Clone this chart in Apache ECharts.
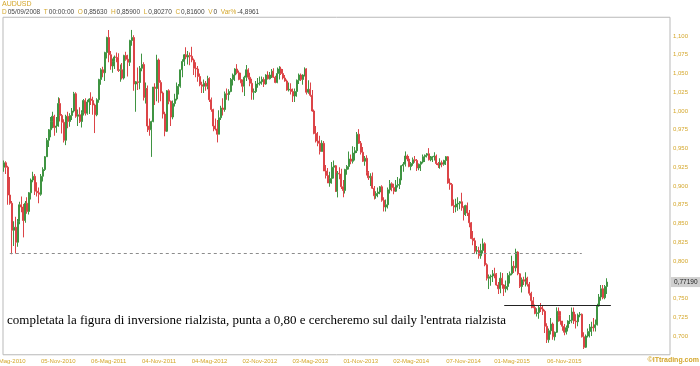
<!DOCTYPE html>
<html><head><meta charset="utf-8">
<script src="https://cdn.jsdelivr.net/npm/echarts@6/dist/echarts.min.js"></script>
<style>html,body{margin:0;padding:0;background:#fff}#c{width:700px;height:366px}</style>
</head><body><div id="c"></div>
<script>
// ---------- DATA ----------
const symbolName = 'AUDUSD';
const firstWeek = [2010, 3, 23];          // Friday of the first weekly bar (UTC y, m0, d)
const totalSlots = 344;                    // weekly slots on the axis (bars + empty space)
const monthsIt = ['Gen','Feb','Mar','Apr','Mag','Giu','Lug','Ago','Set','Ott','Nov','Dic'];
const tickLabels = ['07-Mag-2010','05-Nov-2010','06-Mag-2011','04-Nov-2011','04-Mag-2012','02-Nov-2012',
  '03-Mag-2013','01-Nov-2013','02-Mag-2014','07-Nov-2014','01-Mag-2015','06-Nov-2015'];
const yTicks = {min: 0.675, max: 1.125, step: 0.025};

// weekly bars: [open, close, low, high]
const bars2010 = [
[0.9250,0.9310,0.9190,0.9340],[0.9310,0.9250,0.9160,0.9330],[0.9250,0.8880,0.8750,0.9270],[0.8880,0.8770,0.8750,0.9120],
[0.8770,0.8410,0.8090,0.8800],[0.8410,0.8450,0.8200,0.8530],[0.8450,0.8250,0.8100,0.8590],[0.8250,0.8530,0.8190,0.8560],
[0.8530,0.8750,0.8490,0.8790],[0.8750,0.8720,0.8650,0.8860],[0.8720,0.8540,0.8315,0.8760],[0.8540,0.8770,0.8510,0.8800],
[0.8770,0.8660,0.8630,0.8850],[0.8660,0.8910,0.8620,0.8920],[0.8910,0.9080,0.8820,0.9100],[0.9080,0.9130,0.9050,0.9190],
[0.9130,0.8930,0.8880,0.9160],[0.8930,0.8910,0.8860,0.9050],[0.8910,0.8890,0.8770,0.8980],[0.8890,0.9130,0.8870,0.9160],
[0.9130,0.9220,0.9060,0.9250],[0.9220,0.9390,0.9200,0.9400],[0.9390,0.9610,0.9390,0.9640],[0.9610,0.9750,0.9520,0.9760],
[0.9750,0.9860,0.9650,0.9920],[0.9860,0.9930,0.9770,0.9990],[0.9930,0.9780,0.9670,0.9950],[0.9780,0.9800,0.9710,0.9920],
[0.9800,1.0100,0.9790,1.0183],[1.0100,0.9940,0.9860,1.0170],[0.9940,0.9850,0.9700,0.9960],[0.9850,0.9610,0.9580,0.9890],
[0.9610,0.9930,0.9545,0.9950],[0.9930,0.9860,0.9770,0.9990],[0.9860,0.9940,0.9790,0.9970],[0.9940,1.0000,0.9880,1.0040],
[1.0000,1.0230,0.9980,1.0255]];
const bars2011 = [
[1.0230,0.9930,0.9910,1.0250],[0.9930,0.9950,0.9800,1.0020],[0.9950,0.9860,0.9840,1.0050],[0.9860,0.9980,0.9780,1.0010],
[0.9980,1.0140,0.9940,1.0160],[1.0140,0.9970,0.9940,1.0170],[0.9970,1.0120,0.9950,1.0150],[1.0120,1.0160,0.9960,1.0170],
[1.0160,1.0140,1.0080,1.0250],[1.0140,1.0080,0.9950,1.0190],[1.0080,0.9950,0.9706,1.0100],[0.9950,1.0150,0.9930,1.0170],
[1.0150,1.0420,1.0110,1.0430],[1.0420,1.0550,1.0350,1.0570],[1.0550,1.0510,1.0450,1.0590],[1.0510,1.0780,1.0400,1.0790],
[1.0780,1.0980,1.0700,1.0990],[1.0980,1.0750,1.0650,1.1080],[1.0750,1.0600,1.0550,1.0800],[1.0600,1.0660,1.0510,1.0700],
[1.0660,1.0720,1.0560,1.0740],[1.0720,1.0715,1.0650,1.0780],[1.0715,1.0540,1.0520,1.0770],[1.0540,1.0550,1.0390,1.0620],
[1.0550,1.0440,1.0420,1.0640],[1.0440,1.0740,1.0420,1.0750],[1.0740,1.0690,1.0670,1.0790],[1.0690,1.0650,1.0460,1.0750],
[1.0650,1.0940,1.0600,1.0950],[1.0940,1.0980,1.0870,1.1081],[1.0980,1.0360,1.0270,1.1010],[1.0360,1.0390,0.9990,1.0400],
[1.0390,1.0380,1.0280,1.0580],[1.0380,1.0570,1.0290,1.0600],[1.0570,1.0620,1.0530,1.0765],[1.0620,1.0180,1.0140,1.0650],
[1.0180,1.0300,1.0100,1.0380],[1.0300,0.9800,0.9720,1.0340],[0.9800,0.9750,0.9670,0.9900],[0.9750,0.9860,0.9388,0.9870],
[0.9860,1.0320,0.9850,1.0320],[1.0320,1.0300,1.0080,1.0370],[1.0300,1.0680,1.0130,1.0750],[1.0680,1.0380,1.0110,1.0700],
[1.0380,1.0240,1.0130,1.0410],[1.0240,0.9960,0.9900,1.0260],[0.9960,0.9730,0.9663,0.9990],[0.9730,1.0270,0.9720,1.0280],
[1.0270,1.0130,1.0090,1.0290],[1.0130,0.9920,0.9800,1.0140],[0.9920,1.0100,0.9890,1.0140],[1.0100,1.0160,1.0060,1.0230]];
const bars2012 = [
[1.0160,1.0280,1.0140,1.0380],[1.0280,1.0330,1.0220,1.0360],[1.0330,1.0550,1.0310,1.0550],[1.0550,1.0660,1.0450,1.0690],
[1.0660,1.0750,1.0600,1.0760],[1.0750,1.0720,1.0690,1.0850],[1.0720,1.0740,1.0620,1.0800],[1.0740,1.0730,1.0610,1.0780],
[1.0730,1.0680,1.0650,1.0856],[1.0680,1.0570,1.0480,1.0700],[1.0570,1.0560,1.0450,1.0650],[1.0560,1.0460,1.0390,1.0600],
[1.0460,1.0350,1.0330,1.0500],[1.0350,1.0330,1.0240,1.0390],[1.0330,1.0370,1.0240,1.0420],[1.0370,1.0330,1.0270,1.0400],
[1.0330,1.0430,1.0290,1.0470],[1.0430,1.0150,1.0120,1.0450],[1.0150,1.0020,0.9990,1.0180],[1.0020,0.9800,0.9730,1.0030],
[0.9800,0.9760,0.9740,0.9900],[0.9760,0.9690,0.9581,0.9880],[0.9690,0.9910,0.9690,1.0010],[0.9910,1.0040,0.9880,1.0070],
[1.0040,1.0020,0.9940,1.0170],[1.0020,1.0230,0.9990,1.0260],[1.0230,1.0220,1.0150,1.0300],[1.0220,1.0260,1.0140,1.0290],
[1.0260,1.0420,1.0250,1.0440],[1.0420,1.0480,1.0340,1.0500],[1.0480,1.0560,1.0400,1.0570],[1.0560,1.0510,1.0490,1.0625],
[1.0510,1.0420,1.0410,1.0540],[1.0420,1.0380,1.0370,1.0510],[1.0380,1.0330,1.0250,1.0420],[1.0330,1.0450,1.0200,1.0470],
[1.0450,1.0550,1.0400,1.0613],[1.0550,1.0450,1.0420,1.0570],[1.0450,1.0370,1.0330,1.0510],[1.0370,1.0250,1.0150,1.0430],
[1.0250,1.0260,1.0150,1.0300],[1.0260,1.0360,1.0240,1.0400],[1.0360,1.0370,1.0310,1.0440],[1.0370,1.0390,1.0340,1.0460],
[1.0390,1.0420,1.0350,1.0460],[1.0420,1.0360,1.0320,1.0450],[1.0360,1.0480,1.0350,1.0490],[1.0480,1.0430,1.0420,1.0530],
[1.0430,1.0480,1.0420,1.0520],[1.0480,1.0530,1.0440,1.0560],[1.0530,1.0450,1.0440,1.0570],[1.0450,1.0380,1.0370,1.0470]];
const bars2013 = [
[1.0380,1.0500,1.0370,1.0580],[1.0500,1.0560,1.0420,1.0598],[1.0560,1.0500,1.0480,1.0590],[1.0500,1.0440,1.0420,1.0560],
[1.0440,1.0400,1.0390,1.0480],[1.0400,1.0280,1.0270,1.0420],[1.0280,1.0290,1.0260,1.0380],[1.0290,1.0260,1.0220,1.0370],
[1.0260,1.0200,1.0120,1.0300],[1.0200,1.0260,1.0120,1.0300],[1.0260,1.0410,1.0190,1.0420],[1.0410,1.0480,1.0360,1.0500],
[1.0480,1.0420,1.0400,1.0500],[1.0420,1.0480,1.0350,1.0490],[1.0480,1.0560,1.0460,1.0582],[1.0560,1.0250,1.0220,1.0570],
[1.0250,1.0290,1.0230,1.0410],[1.0290,1.0210,1.0190,1.0380],[1.0210,1.0000,0.9990,1.0280],[1.0000,0.9700,0.9690,1.0020],
[0.9700,0.9600,0.9580,0.9800],[0.9600,0.9570,0.9530,0.9720],[0.9570,0.9460,0.9420,0.9670],[0.9460,0.9570,0.9460,0.9610],
[0.9570,0.9200,0.9200,0.9600],[0.9200,0.9140,0.9100,0.9280],[0.9140,0.9040,0.9040,0.9240],[0.9040,0.9100,0.8990,0.9190],
[0.9100,0.9250,0.9030,0.9320],[0.9250,0.9270,0.9100,0.9340],[0.9270,0.8930,0.8920,0.9280],[0.8930,0.9170,0.8848,0.9200],
[0.9170,0.9160,0.9090,0.9250],[0.9160,0.8990,0.8960,0.9230],[0.8990,0.8940,0.8850,0.9080],[0.8940,0.9220,0.8900,0.9230],
[0.9220,0.9260,0.9150,0.9280],[0.9260,0.9360,0.9220,0.9460],[0.9360,0.9330,0.9290,0.9420],[0.9330,0.9440,0.9300,0.9530],
[0.9440,0.9470,0.9340,0.9520],[0.9470,0.9690,0.9440,0.9720],[0.9690,0.9570,0.9560,0.9758],[0.9570,0.9450,0.9420,0.9600],
[0.9450,0.9330,0.9320,0.9520],[0.9330,0.9370,0.9270,0.9400],[0.9370,0.9180,0.9140,0.9410],[0.9180,0.9110,0.9080,0.9200],
[0.9110,0.9130,0.9000,0.9170],[0.9130,0.8970,0.8960,0.9180],[0.8970,0.8870,0.8820,0.9000],[0.8870,0.8900,0.8830,0.8930]];
const bars2014 = [
[0.8900,0.8920,0.8850,0.8980],[0.8920,0.8990,0.8890,0.9000],[0.8990,0.8810,0.8790,0.9010],[0.8810,0.8720,0.8660,0.8850],
[0.8720,0.8750,0.8660,0.8820],[0.8750,0.8950,0.8700,0.8980],[0.8950,0.9030,0.8900,0.9080],[0.9030,0.8980,0.8930,0.9050],
[0.8980,0.8930,0.8890,0.9030],[0.8930,0.9010,0.8920,0.9080],[0.9010,0.9020,0.8980,0.9120],[0.9020,0.9080,0.8960,0.9100],
[0.9080,0.9270,0.9080,0.9280],[0.9270,0.9290,0.9190,0.9320],[0.9290,0.9400,0.9260,0.9461],[0.9400,0.9360,0.9330,0.9420],
[0.9360,0.9260,0.9250,0.9400],[0.9260,0.9300,0.9210,0.9320],[0.9300,0.9350,0.9270,0.9380],[0.9350,0.9340,0.9310,0.9400],
[0.9340,0.9240,0.9200,0.9360],[0.9240,0.9290,0.9210,0.9300],[0.9290,0.9320,0.9200,0.9330],[0.9320,0.9390,0.9300,0.9420],
[0.9390,0.9410,0.9320,0.9420],[0.9410,0.9430,0.9380,0.9440],[0.9430,0.9350,0.9340,0.9505],[0.9350,0.9370,0.9330,0.9400],
[0.9370,0.9390,0.9320,0.9400],[0.9390,0.9400,0.9340,0.9450],[0.9400,0.9300,0.9280,0.9420],[0.9300,0.9280,0.9240,0.9320],
[0.9280,0.9310,0.9230,0.9370],[0.9310,0.9290,0.9250,0.9340],[0.9290,0.9340,0.9270,0.9350],[0.9340,0.9390,0.9280,0.9400],
[0.9390,0.9040,0.9030,0.9400],[0.9040,0.9020,0.8950,0.9100],[0.9020,0.8740,0.8730,0.9040],[0.8740,0.8720,0.8640,0.8820],
[0.8720,0.8760,0.8650,0.8830],[0.8760,0.8770,0.8670,0.8850],[0.8770,0.8790,0.8690,0.8800],[0.8790,0.8710,0.8670,0.8910],
[0.8710,0.8620,0.8540,0.8730],[0.8620,0.8740,0.8600,0.8750],[0.8740,0.8640,0.8600,0.8780],[0.8640,0.8510,0.8450,0.8680],
[0.8510,0.8300,0.8290,0.8520],[0.8300,0.8270,0.8210,0.8400],[0.8270,0.8130,0.8100,0.8310],[0.8130,0.8140,0.8090,0.8200]];
const bars2015 = [
[0.8140,0.8070,0.8030,0.8190],[0.8070,0.8140,0.8030,0.8230],[0.8140,0.8230,0.8100,0.8300],[0.8230,0.7950,0.7930,0.8250],
[0.7950,0.7770,0.7740,0.7970],[0.7770,0.7790,0.7626,0.7820],[0.7790,0.7800,0.7670,0.7820],[0.7800,0.7830,0.7720,0.7880],
[0.7830,0.7820,0.7770,0.7910],[0.7820,0.7680,0.7670,0.7840],[0.7680,0.7630,0.7560,0.7720],[0.7630,0.7770,0.7570,0.7850],
[0.7770,0.7680,0.7630,0.7840],[0.7680,0.7630,0.7533,0.7690],[0.7630,0.7660,0.7580,0.7740],[0.7660,0.7810,0.7610,0.7840],
[0.7810,0.7830,0.7700,0.7860],[0.7830,0.7930,0.7810,0.8070],[0.7930,0.7910,0.7840,0.8000],[0.7910,0.8120,0.7860,0.8164],
[0.8120,0.7830,0.7810,0.8130],[0.7830,0.7660,0.7640,0.7840],[0.7660,0.7750,0.7580,0.7780],[0.7750,0.7730,0.7680,0.7790],
[0.7730,0.7770,0.7660,0.7850],[0.7770,0.7690,0.7660,0.7790],[0.7690,0.7570,0.7540,0.7720],[0.7570,0.7470,0.7370,0.7590],
[0.7470,0.7380,0.7370,0.7520],[0.7380,0.7300,0.7290,0.7420],[0.7300,0.7310,0.7260,0.7370],[0.7310,0.7380,0.7230,0.7400],
[0.7380,0.7360,0.7320,0.7440],[0.7360,0.7330,0.7280,0.7400],[0.7330,0.7130,0.7040,0.7350],[0.7130,0.6950,0.6907,0.7170],
[0.6950,0.7070,0.6910,0.7100],[0.7070,0.7160,0.7020,0.7240],[0.7160,0.6990,0.6950,0.7180],[0.6990,0.7050,0.6940,0.7060],
[0.7050,0.7330,0.7040,0.7382],[0.7330,0.7270,0.7190,0.7380],[0.7270,0.7200,0.7150,0.7330],[0.7200,0.7130,0.7070,0.7200],
[0.7130,0.7050,0.7010,0.7160],[0.7050,0.7110,0.7020,0.7140],[0.7110,0.7200,0.7060,0.7210],[0.7200,0.7210,0.7160,0.7280],
[0.7210,0.7320,0.7170,0.7380],[0.7320,0.7200,0.7160,0.7380],[0.7200,0.7190,0.7100,0.7290],[0.7190,0.7280,0.7130,0.7300]];
const bars2016 = [
[0.7280,0.7290,0.7250,0.7320],[0.7290,0.6990,0.6980,0.7300],[0.6990,0.6850,0.6827,0.7050],[0.6850,0.7000,0.6840,0.7020],
[0.7000,0.7060,0.6980,0.7100],[0.7060,0.7080,0.6980,0.7160],[0.7080,0.7120,0.7000,0.7190],[0.7120,0.7110,0.7060,0.7240],
[0.7110,0.7150,0.7060,0.7220],[0.7150,0.7400,0.7140,0.7430],[0.7400,0.7520,0.7390,0.7560],[0.7520,0.7630,0.7470,0.7680],
[0.7630,0.7510,0.7490,0.7680],[0.7510,0.7660,0.7490,0.7680],[0.7660,0.7719,0.7560,0.7770]];

const resistanceLine = {value: 0.811, from: '14-Mag-2010', to: '08-Gen-2016'};
const necklineLine = {value: 0.741, from: '03-Apr-2015', to: '22-Apr-2016'};
const annotationText = "completata la figura di inversione rialzista, punta a 0,80 e cercheremo sul daily l'entrata rialzista";
const headerInfo = [['D','05/09/2008'],['T','00:00:00'],['O','0,85630'],['H','0,85900'],['L','0,80270'],['C','0,81600'],['V','0'],['Var%','-4,8961']];
const copyrightText = '\u00A9ITtrading.com';

// ---------- CHART ----------
const GOLD = '#d4a72c';
const dates = [];
for (let i = 0; i < totalSlots; i++) {
  const d = new Date(Date.UTC(firstWeek[0], firstWeek[1], firstWeek[2] + 7 * i));
  dates.push(String(d.getUTCDate()).padStart(2, '0') + '-' + monthsIt[d.getUTCMonth()] + '-' + d.getUTCFullYear());
}
const bars = [].concat(bars2010, bars2011, bars2012, bars2013, bars2014, bars2015, bars2016);
const lastClose = bars[bars.length - 1][1];
const fmtY = v => v.toFixed(3).replace('.', ',');

const headerRich = headerInfo.map(p => '{k|' + p[0] + '}{v|' + p[1] + '}').join('  ');

const chart = echarts.init(document.getElementById('c'), null, {renderer: 'canvas'});
chart.setOption({
  animation: false,
  backgroundColor: '#ffffff',
  grid: {left: 3, right: 30, top: 17.25, bottom: 11.25, containLabel: false, outerBoundsMode: 'none',
         show: true, borderColor: '#b9b9b9', borderWidth: 1, backgroundColor: 'transparent'},
  xAxis: {
    type: 'category', data: dates, boundaryGap: true,
    axisLine: {show: false}, axisTick: {show: false}, splitLine: {show: false},
    axisLabel: {
      interval: (i, v) => tickLabels.indexOf(v) >= 0, hideOverlap: false,
      color: GOLD, fontSize: 6, fontFamily: 'Liberation Sans', margin: 4
    }
  },
  yAxis: {
    type: 'value', position: 'right', min: yTicks.min, max: yTicks.max, interval: yTicks.step,
    axisLine: {show: false}, axisTick: {show: false}, splitLine: {show: false},
    axisLabel: {formatter: fmtY, showMinLabel: false, showMaxLabel: false, color: GOLD, fontSize: 6, fontFamily: 'Liberation Sans', margin: 3}
  },
  series: [{
    type: 'candlestick',
    data: bars,
    barWidth: 1.5,
    clip: false,
    itemStyle: {color: '#3f9442', color0: '#dc4447', borderColor: '#3f9442', borderColor0: '#dc4447', borderColorDoji: '#3f9442', borderWidth: 1},
    markLine: {
      silent: true, symbol: ['none', 'none'], animation: false, precision: 5,
      label: {show: false},
      data: [
        [{coord: [resistanceLine.from, resistanceLine.value], lineStyle: {color: '#8c8c8c', type: [3, 3], width: 1}},
         {coord: [resistanceLine.to, resistanceLine.value]}],
        [{coord: [necklineLine.from, necklineLine.value], lineStyle: {color: '#222', type: 'solid', width: 1}},
         {coord: [necklineLine.to, necklineLine.value]}],
        {yAxis: lastClose, lineStyle: {color: 'rgba(0,0,0,0)', width: 1},
         label: {show: true, position: 'end', distance: 1, formatter: () => lastClose.toFixed(5).replace('.', ','),
                 backgroundColor: '#cfcfcf', color: '#222', fontSize: 6.5, fontFamily: 'Liberation Sans', padding: [2, 3, 1, 3]}}
      ]
    }
  }],
  graphic: [
    {type: 'text', left: 2, top: 1, style: {text: symbolName, fill: GOLD, fontSize: 7, fontFamily: 'Liberation Sans'}},
    {type: 'text', left: 2, top: 9, style: {text: headerRich, fontSize: 6.5, fontFamily: 'Liberation Sans',
      rich: {k: {fill: GOLD, fontSize: 6.5, padding: [0, 1, 0, 0]}, v: {fill: '#444', fontSize: 6.5}}}},
    {type: 'text', left: 7, top: 314, style: {text: annotationText, fill: '#000', fontSize: 13, fontFamily: 'Liberation Serif'}},
    {type: 'text', right: 1, top: 357, style: {text: copyrightText, fill: GOLD, fontSize: 7, fontWeight: 'bold', fontFamily: 'Liberation Sans'}}
  ]
});
</script>
</body></html>
